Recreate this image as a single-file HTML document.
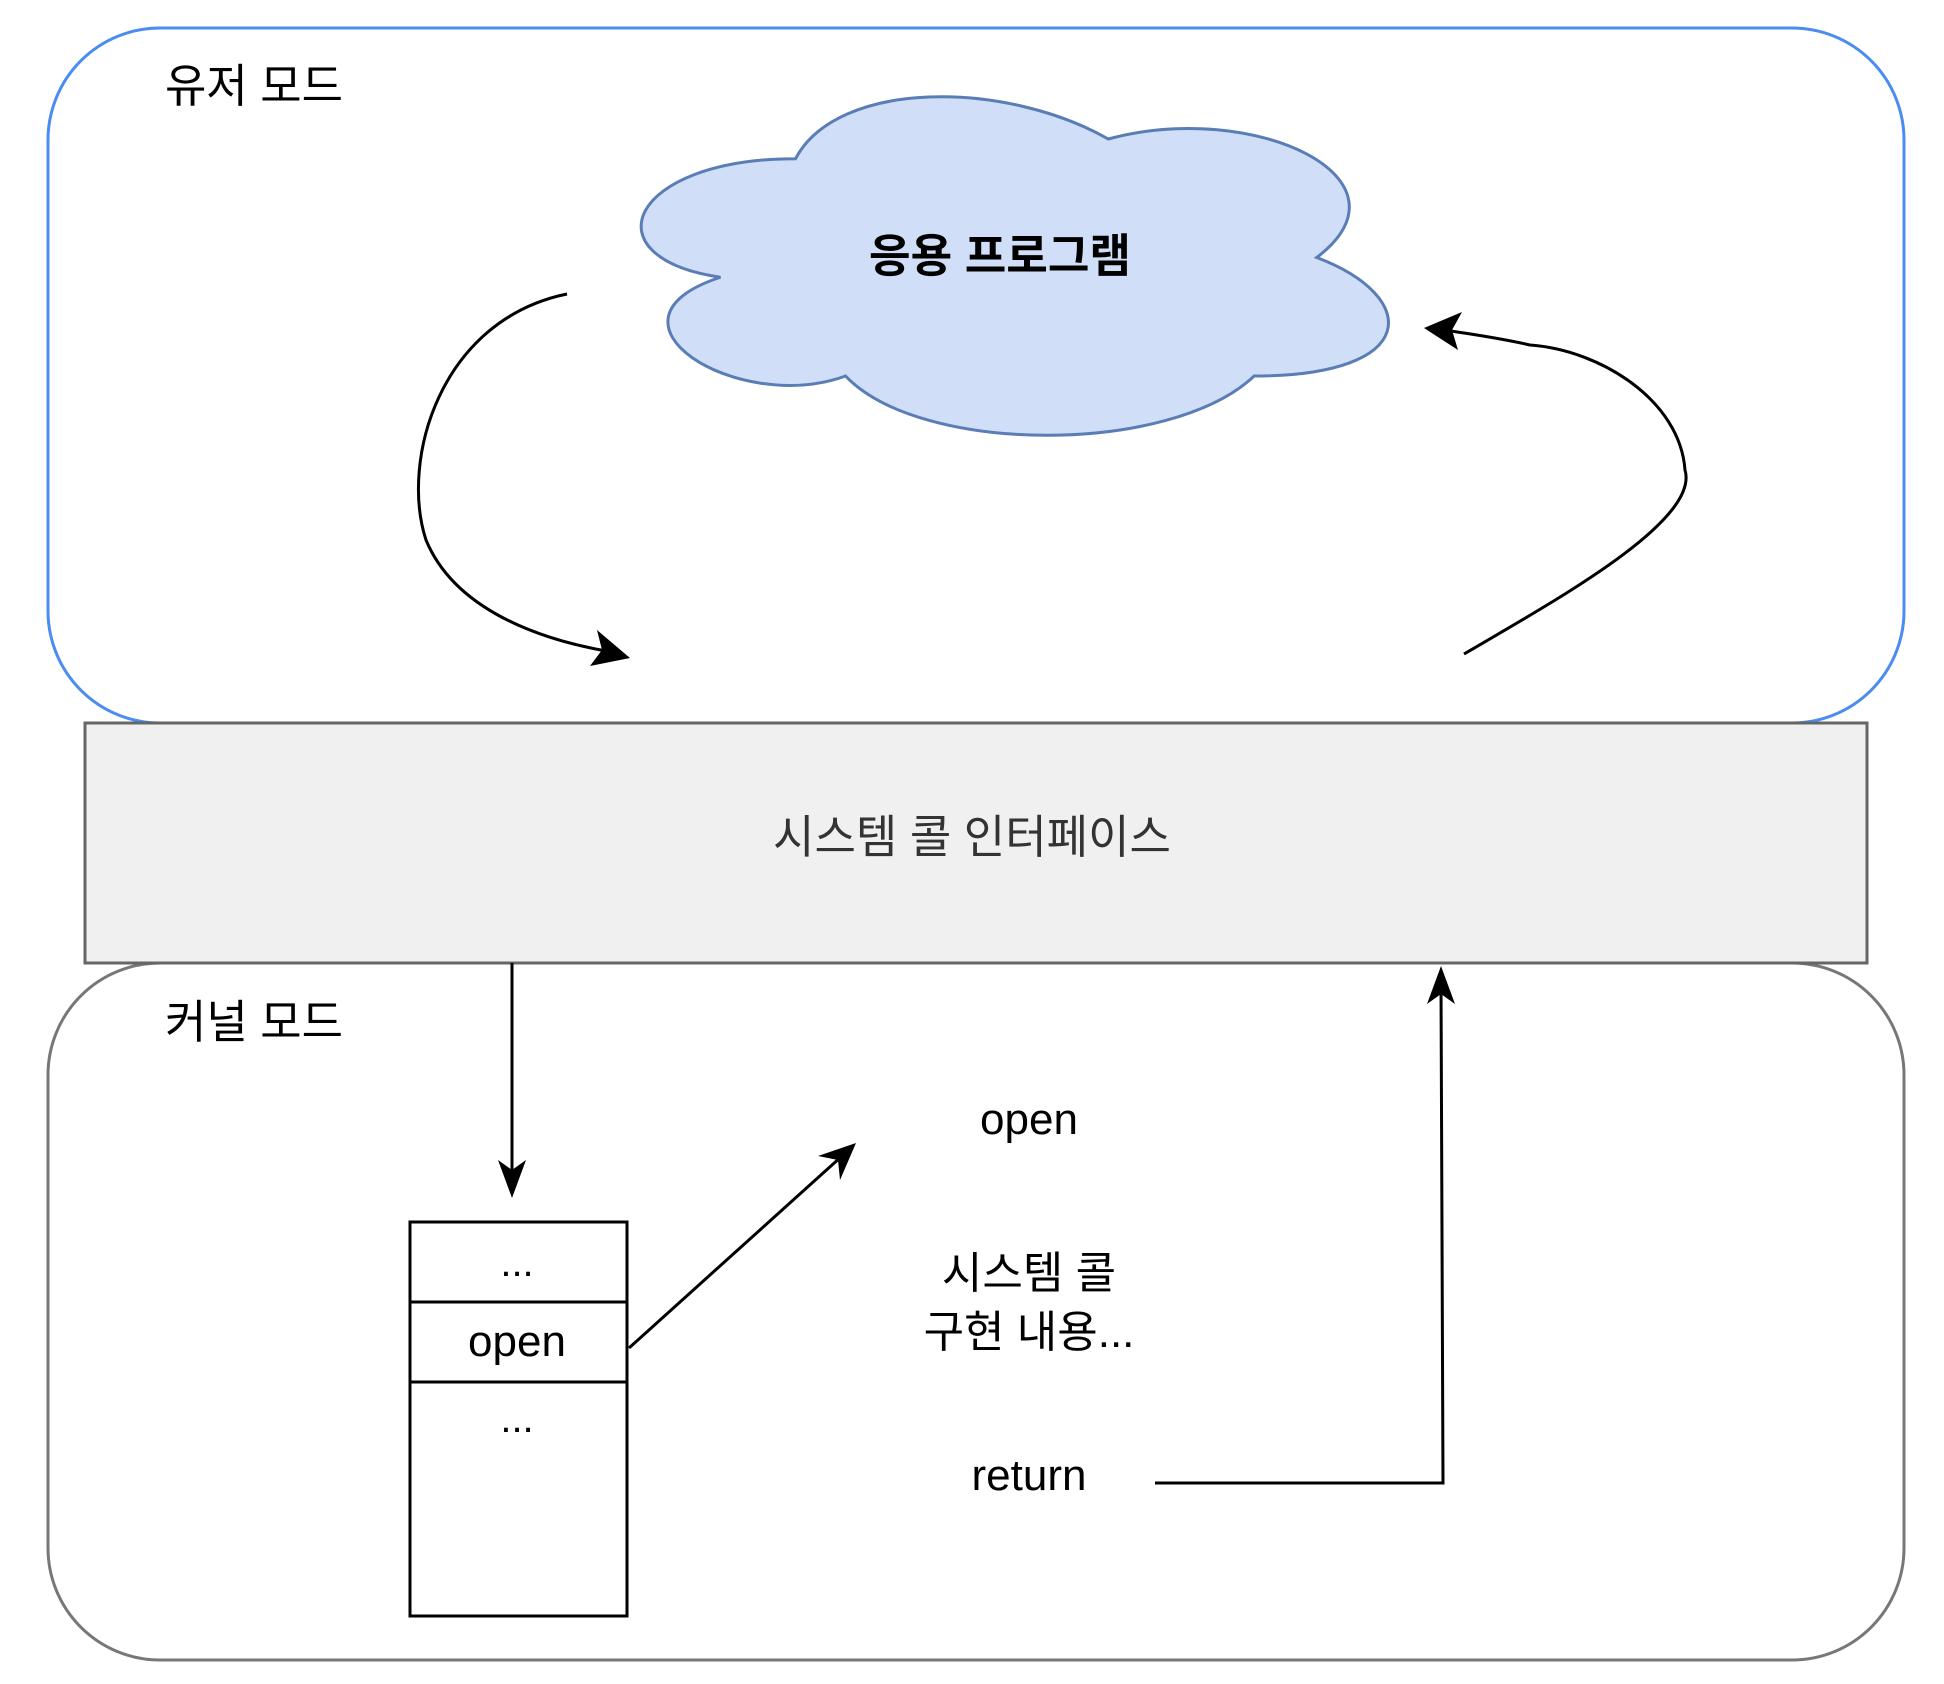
<!DOCTYPE html>
<html><head><meta charset="utf-8"><style>
html,body{margin:0;padding:0;background:#fff;}
svg{display:block;}
text{font-family:"Liberation Sans","Noto Sans CJK KR",sans-serif;}
</style></head><body>
<svg width="1944" height="1684" viewBox="0 0 1944 1684" xmlns="http://www.w3.org/2000/svg">
<defs>
<marker id="ah" markerWidth="12" markerHeight="12" refX="10" refY="6" orient="auto" markerUnits="userSpaceOnUse" viewBox="0 0 12 12">
</marker>
</defs>
<!-- user mode -->
<rect x="48" y="28" width="1856" height="695" rx="112" ry="112" fill="#fff" stroke="#4a8cf0" stroke-width="3"/>
<!-- kernel mode -->
<rect x="48" y="963" width="1856" height="697" rx="112" ry="112" fill="#fff" stroke="#777" stroke-width="3"/>
<!-- syscall interface -->
<rect x="85" y="723" width="1782" height="240" fill="#f0f0f0" stroke="#666" stroke-width="3"/>
<text x="972" y="853" font-size="46" fill="#333" text-anchor="middle" textLength="398" lengthAdjust="spacingAndGlyphs">시스템 콜 인터페이스</text>

<text x="165" y="102" font-size="46" fill="#000" textLength="178" lengthAdjust="spacingAndGlyphs">유저 모드</text>
<text x="165" y="1038" font-size="46" fill="#000" textLength="178" lengthAdjust="spacingAndGlyphs">커널 모드</text>

<!-- cloud -->
<g transform="translate(587,60) scale(834,395)">
<path d="M0.25,0.25 C0.05,0.25 0,0.5 0.16,0.55 C0,0.66 0.18,0.9 0.31,0.8 C0.4,1 0.7,1 0.8,0.8 C1,0.8 1,0.6 0.875,0.5 C1,0.3 0.8,0.1 0.625,0.2 C0.5,0.05 0.3,0.05 0.25,0.25 Z" fill="#d0dff7" stroke="#5a7db5" stroke-width="3" vector-effect="non-scaling-stroke"/>
</g>
<text x="1000" y="272" font-size="46" fill="#000" text-anchor="middle" font-weight="bold" textLength="262" lengthAdjust="spacingAndGlyphs">응용 프로그램</text>

<!-- left curved arrow -->
<path d="M567,294 C440,320 400,460 426,540 C455,610 540,640 612,652" fill="none" stroke="#000" stroke-width="3"/>
<polygon points="630,658 590,666 602,650 597,630" fill="#000"/>
<!-- right curved arrow -->
<path d="M1464,654 C1560,598 1700,520 1685,470 C1680,400 1600,350 1530,345 C1490,336 1460,333 1440,329" fill="none" stroke="#000" stroke-width="3"/>
<polygon points="1424,328 1462,312 1452,330 1458,350" fill="#000"/>

<!-- down arrow -->
<line x1="512" y1="963" x2="512" y2="1180" stroke="#000" stroke-width="3"/>
<polygon points="512,1198 498,1160 512,1170 526,1160" fill="#000"/>

<!-- table -->
<rect x="410" y="1222" width="217" height="394" fill="#fff" stroke="#000" stroke-width="3"/>
<line x1="410" y1="1302" x2="627" y2="1302" stroke="#000" stroke-width="3"/>
<line x1="410" y1="1382" x2="627" y2="1382" stroke="#000" stroke-width="3"/>
<text x="517" y="1276" font-size="40" text-anchor="middle">...</text>
<text x="517" y="1356" font-size="44" text-anchor="middle">open</text>
<text x="517" y="1432" font-size="40" text-anchor="middle">...</text>

<!-- diagonal arrow -->
<line x1="629" y1="1348" x2="842" y2="1156" stroke="#000" stroke-width="3"/>
<polygon points="856,1143 840,1180 838,1160 818,1156" fill="#000"/>

<text x="1029" y="1134" font-size="44" text-anchor="middle">open</text>
<text x="1029" y="1288" font-size="44" text-anchor="middle">시스템 콜</text>
<text x="1029" y="1347" font-size="44" text-anchor="middle">구현 내용...</text>
<text x="1029" y="1490" font-size="44" text-anchor="middle">return</text>

<!-- return line -->
<polyline points="1155,1483 1443,1483 1441,984" fill="none" stroke="#000" stroke-width="3"/>
<polygon points="1441,966 1455,1004 1441,994 1427,1004" fill="#000"/>
</svg>
</body></html>
